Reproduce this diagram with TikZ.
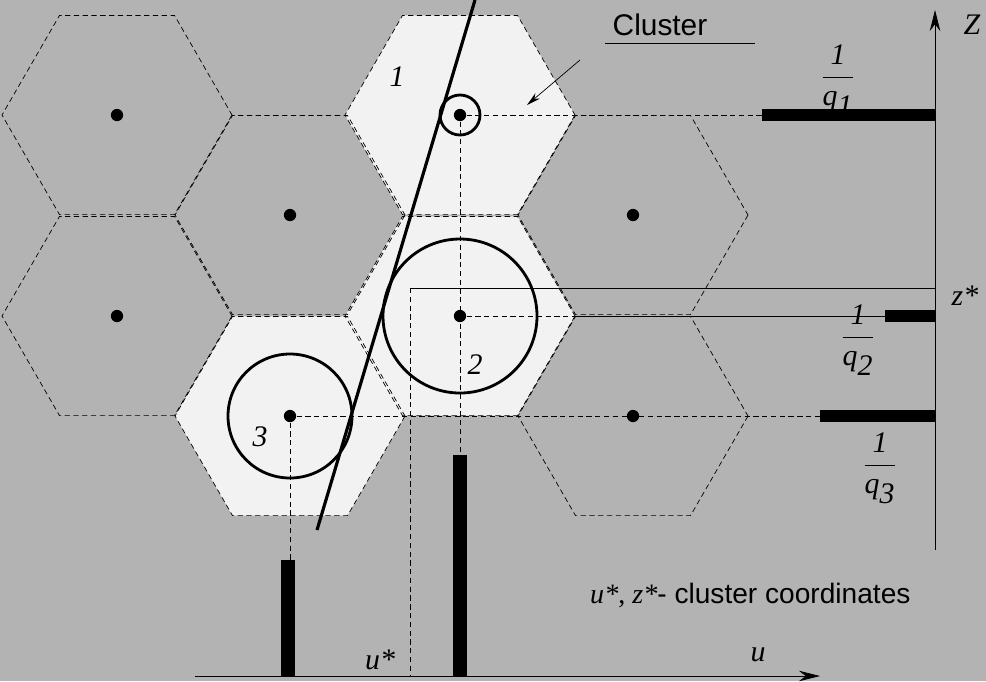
\documentclass[tikz,border=0pt]{standalone}
\usepackage{fontspec}
\setmainfont{Liberation Serif}
\setsansfont{Liberation Sans}
\usetikzlibrary{arrows.meta}
\definecolor{bggray}{HTML}{B3B3B3}
\definecolor{cellgray}{HTML}{F2F2F2}
\tikzset{
  cell/.style={draw, thin, dash pattern=on 3pt off 2pt},
  guide/.style={thin, dash pattern=on 3pt off 2pt},
  dot/.style={circle, fill, inner sep=0pt, minimum size=7pt},
  bar/.style={line width=7pt},
  lbl/.style={font=\itshape\fontsize{17}{19}\selectfont}
}
\newcommand{\hexcell}[3]{\path[#3] (#1,#2) +(0:115) -- +(60:115) -- +(120:115) -- +(180:115) -- +(240:115) -- +(300:115) -- cycle;}
\newcommand{\qfrac}[1]{$\displaystyle\frac{\textit{1}}{\textit{q}_{\textit{#1}}}$}
\begin{document}
\begin{tikzpicture}[x=0.02cm, y=-0.02cm]
    \fill[bggray] (0,0) rectangle (986,681);
    \useasboundingbox (0,0) rectangle (986,681);

    % shaded cells
    \hexcell{460}{115}{fill=cellgray}
    \hexcell{460}{316}{fill=cellgray}
    \hexcell{290}{416}{fill=cellgray}
    % dashed cells
    \foreach \cx/\cy in {117/115, 290/215, 117/316, 633/215, 633/416, 460/115, 460/316, 290/416} {
        \hexcell{\cx}{\cy}{cell}
    }

    \foreach \cx/\cy [count=\i] in {117/115, 290/215, 117/316, 633/215, 633/416, 460/115, 460/316, 290/416} {
        \node[dot] (c\i) at (\cx,\cy) {};
    }

    % guides
    \coordinate (zaxisB) at (935,550);
    \coordinate (zaxisT) at (935,10);
    \coordinate (uaxisL) at (195,676);
    \coordinate (uaxisR) at (820,676);
    \coordinate (q1) at (935,115);
    \coordinate (q2) at (935,316);
    \coordinate (q3) at (935,416);
    \coordinate (zs) at (935,288);
    \coordinate (zc) at (410,288);
    \coordinate (us) at (410,676);
    \coordinate (b1) at (460,676);
    \coordinate (b3) at (288,676);

    \draw[guide] (c6) -- (762,115);
    \draw[guide] (c7) -- (575,316);
    \draw[thin] (575,316) -- (885,316);
    \draw[guide] (c8) -- (820,416);
    \draw[guide] (c6) -- (460,455);
    \draw[guide] (c8) -- (290,560);
    \draw[thin] (zs) -- (zc);
    \draw[guide] (zc) -- (us);

    % bars
    \draw[bar] (q1) -- (762,115);
    \draw[bar] (q2) -- (885,316);
    \draw[bar] (q3) -- (820,416);
    \draw[bar, line width=8pt] (460,455) -- (b1);
    \draw[bar, line width=8pt] (288,560) -- (b3);

    % axes
    \draw[-{Stealth[length=12pt,width=6pt]}] (zaxisB) -- (zaxisT);
    \draw[-{Stealth[length=12pt,width=6pt]}] (uaxisL) -- (uaxisR);
    \node[lbl] (zlab) at (972,25) {Z};
    \node[lbl] (ulab) at (758,655) {u};
    \node[lbl] (uslab) at (380,660) {u*};
    \node[lbl] (zslab) at (965,296) {z*};

    % clusters
    \draw[line width=1.6pt] (c6) circle (20);
    \draw[line width=1.6pt] (c7) circle (77);
    \draw[line width=1.6pt] (c8) circle (62);
    \draw[line width=1.8pt] (475,0) -- (317,530);

    \node[lbl] (n1) at (397,77) {1};
    \node[lbl] (n2) at (475,365) {2};
    \node[lbl] (n3) at (260,437) {3};

    \node[lbl] (f1) at (838,80) {\qfrac{1}};
    \node[lbl] (f2) at (858,340) {\qfrac{2}};
    \node[lbl] (f3) at (880,468) {\qfrac{3}};

    \node[font=\sffamily\fontsize{17}{19}\selectfont] (clab) at (660,25) {Cluster};
    \draw[thin] (605,43) -- (755,43);
    \draw[thin, -{Stealth[length=8pt,width=4pt]}] (580,60) -- (527,105);

    \node[font=\fontsize{16}{18}\selectfont, anchor=west] (note) at (584,595) {\textit{u*}, \textit{z*}\textsf{- cluster coordinates}};
\end{tikzpicture}
\end{document}
